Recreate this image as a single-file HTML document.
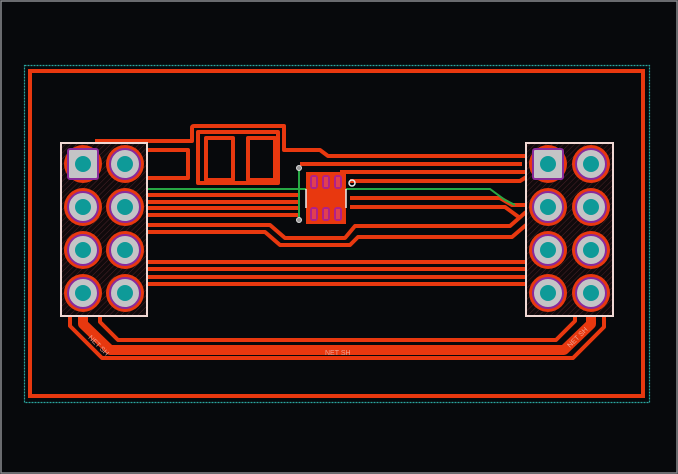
<!DOCTYPE html>
<html><head><meta charset="utf-8"><style>
html,body{margin:0;padding:0;background:#07090c;}
svg{display:block}
</style></head><body>
<svg width="678" height="474" viewBox="0 0 678 474" xmlns="http://www.w3.org/2000/svg">
<defs>
<pattern id="hatch" width="4" height="4" patternUnits="userSpaceOnUse" patternTransform="rotate(45)">
<rect width="4" height="4" fill="#100a0c"/><line x1="0" y1="0" x2="0" y2="4" stroke="#4a2228" stroke-width="1"/>
</pattern>
</defs>
<rect x="0" y="0" width="678" height="474" fill="#07090c"/>
<rect x="1" y="1" width="676" height="472" fill="none" stroke="#8a8c90" stroke-width="1.5"/>
<rect x="24.5" y="65.5" width="625" height="337" fill="none" stroke="#2aa6a0" stroke-width="1.2" stroke-dasharray="2,1"/>
<rect x="30" y="71" width="613" height="325" fill="none" stroke="#e8380f" stroke-width="4"/>

<g fill="none" stroke="#e8380f" stroke-linejoin="round">
<path d="M95 141 H192 V128 Q192 126 194 126 H284 V150 H320 L328 156 H526" stroke-width="4"/>
<path d="M198 132 H278 V183 H198 Z" stroke-width="4"/>
<rect x="206" y="138" width="27" height="42" stroke-width="4"/>
<rect x="248" y="138" width="27" height="42" stroke-width="4"/>
<path d="M148 150 H188 V178 H148" stroke-width="4"/>
<path d="M300 164 H522" stroke-width="4"/>
<path d="M340 172 H528" stroke-width="4"/>
<path d="M350 181 H520 L528 176" stroke-width="4"/>
<path d="M148 195 H300" stroke-width="4"/>
<path d="M148 202 H300" stroke-width="4"/>
<path d="M148 208 H300" stroke-width="4"/>
<path d="M148 215 H300" stroke-width="4"/>
<path d="M350 198 H500 L512 205 H526" stroke-width="4"/>
<path d="M350 207 H505 L520 218" stroke-width="4"/>
<path d="M148 225 H270 L285 238 H345 L355 226 H510 L526 212" stroke-width="4"/>
<path d="M148 232 H265 L280 245 H350 L358 237 H512 L526 225" stroke-width="4"/>
<path d="M148 262 H526" stroke-width="4"/>
<path d="M148 269 H526" stroke-width="4"/>
<path d="M148 277 H526" stroke-width="4"/>
<path d="M148 284 H526" stroke-width="4"/>
<path d="M70 300 V326 L102 358 H573 L604 327 V300" stroke-width="4"/>
<path d="M83 310 V324 L110 350 H564 L591 324 V310" stroke-width="10"/>
<path d="M100 312 V322 L118 340 H556 L575 321 V312" stroke-width="4"/>
</g>

<path d="M100 189 H490 L505 200 L515 205" fill="none" stroke="#27a844" stroke-width="2"/>
<path d="M299 168 V220" fill="none" stroke="#27a844" stroke-width="2"/>

<rect x="61" y="143" width="86" height="173" fill="url(#hatch)"/>
<rect x="526" y="143" width="87" height="173" fill="url(#hatch)"/>
<g fill="#e8380f">
<circle cx="83" cy="164" r="19"/><circle cx="125" cy="164" r="19"/>
<circle cx="83" cy="207" r="19"/><circle cx="125" cy="207" r="19"/>
<circle cx="83" cy="250" r="19"/><circle cx="125" cy="250" r="19"/>
<circle cx="83" cy="293" r="19"/><circle cx="125" cy="293" r="19"/>
<circle cx="548" cy="164" r="19"/><circle cx="591" cy="164" r="19"/>
<circle cx="548" cy="207" r="19"/><circle cx="591" cy="207" r="19"/>
<circle cx="548" cy="250" r="19"/><circle cx="591" cy="250" r="19"/>
<circle cx="548" cy="293" r="19"/><circle cx="591" cy="293" r="19"/>
</g>
<g fill="#c4c4c6" stroke="#8a2a9a" stroke-width="2">
<rect x="68" y="149" width="30" height="30" rx="2"/><circle cx="125" cy="164" r="15"/>
<circle cx="83" cy="207" r="15"/><circle cx="125" cy="207" r="15"/>
<circle cx="83" cy="250" r="15"/><circle cx="125" cy="250" r="15"/>
<circle cx="83" cy="293" r="15"/><circle cx="125" cy="293" r="15"/>
<rect x="533" y="149" width="30" height="30" rx="2"/><circle cx="591" cy="164" r="15"/>
<circle cx="548" cy="207" r="15"/><circle cx="591" cy="207" r="15"/>
<circle cx="548" cy="250" r="15"/><circle cx="591" cy="250" r="15"/>
<circle cx="548" cy="293" r="15"/><circle cx="591" cy="293" r="15"/>
</g>
<g fill="#0e9a98">
<circle cx="83" cy="164" r="8"/><circle cx="125" cy="164" r="8"/>
<circle cx="83" cy="207" r="8"/><circle cx="125" cy="207" r="8"/>
<circle cx="83" cy="250" r="8"/><circle cx="125" cy="250" r="8"/>
<circle cx="83" cy="293" r="8"/><circle cx="125" cy="293" r="8"/>
<circle cx="548" cy="164" r="8"/><circle cx="591" cy="164" r="8"/>
<circle cx="548" cy="207" r="8"/><circle cx="591" cy="207" r="8"/>
<circle cx="548" cy="250" r="8"/><circle cx="591" cy="250" r="8"/>
<circle cx="548" cy="293" r="8"/><circle cx="591" cy="293" r="8"/>
</g>
<rect x="61" y="143" width="86" height="173" fill="none" stroke="#f0d8d4" stroke-width="2"/>
<rect x="526" y="143" width="87" height="173" fill="none" stroke="#f0d8d4" stroke-width="2"/>

<rect x="306" y="172" width="40" height="52" fill="#e8380f"/>
<g fill="#b0208a">
<rect x="310" y="175" width="8" height="14" rx="3"/><rect x="322" y="175" width="8" height="14" rx="3"/><rect x="334" y="175" width="8" height="14" rx="3"/>
<rect x="310" y="207" width="8" height="14" rx="3"/><rect x="322" y="207" width="8" height="14" rx="3"/><rect x="334" y="207" width="8" height="14" rx="3"/>
</g>
<g fill="#e04050"><rect x="312" y="177" width="4" height="10"/><rect x="324" y="177" width="4" height="10"/><rect x="336" y="177" width="4" height="10"/>
<rect x="312" y="209" width="4" height="10"/><rect x="324" y="209" width="4" height="10"/><rect x="336" y="209" width="4" height="10"/></g>
<line x1="306" y1="189" x2="306" y2="208" stroke="#eee" stroke-width="1.5"/>
<line x1="346" y1="189" x2="346" y2="208" stroke="#eee" stroke-width="1.5"/>
<circle cx="352" cy="183" r="3" fill="none" stroke="#eee" stroke-width="1.5"/>
<circle cx="299" cy="168" r="2.5" fill="#999" stroke="#ddd" stroke-width="1"/>
<circle cx="299" cy="220" r="2.5" fill="#999" stroke="#ddd" stroke-width="1"/>

<g font-family="Liberation Sans, sans-serif" font-size="7" fill="#f0a090">
<text x="325" y="355">NET SH</text>
<text x="88" y="338" transform="rotate(45 88 338)">NET SH</text>
<text x="570" y="348" transform="rotate(-45 570 348)">NET SH</text>
</g>
</svg>
</body></html>
